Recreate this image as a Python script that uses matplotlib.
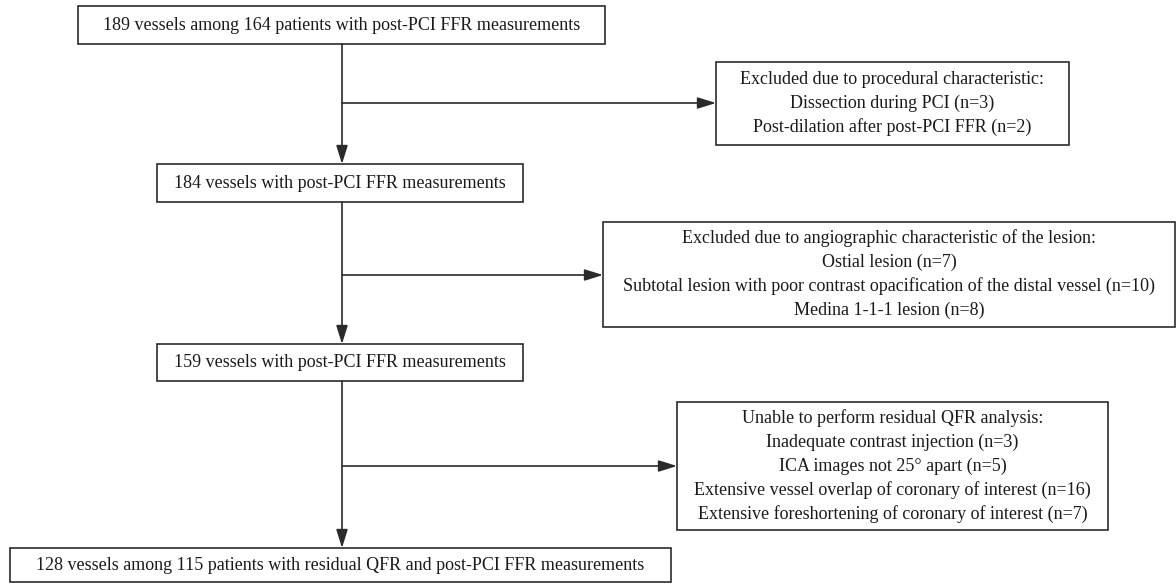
import matplotlib
matplotlib.use('Agg')
import matplotlib.pyplot as plt
from matplotlib.patches import Rectangle

plt.rcParams['font.family'] = ['Liberation Serif', 'DejaVu Serif']

# Flowchart text (data)
main_steps = [
    "189 vessels among 164 patients with post-PCI FFR measurements",
    "184 vessels with post-PCI FFR measurements",
    "159 vessels with post-PCI FFR measurements",
    "128 vessels among 115 patients with residual QFR and post-PCI FFR measurements",
]
excl_titles = [
    "Excluded due to procedural characteristic:",
    "Excluded due to angiographic characteristic of the lesion:",
    "Unable to perform residual QFR analysis:",
]
excl_reasons = [
    ["Dissection during PCI", "Post-dilation after post-PCI FFR"],
    ["Ostial lesion", "Subtotal lesion with poor contrast opacification of the distal vessel",
     "Medina 1-1-1 lesion"],
    ["Inadequate contrast injection", "ICA images not 25\u00b0 apart",
     "Extensive vessel overlap of coronary of interest",
     "Extensive foreshortening of coronary of interest"],
]
excl_counts = [[3, 2], [7, 10, 8], [3, 5, 16, 7]]

# layout in pixel coordinates (x0, y0, x1, y1), y downward
main_boxes = [(78, 6, 605, 44), (157, 164, 523, 202), (157, 344, 523, 381), (10, 548, 671, 582)]
excl_boxes = [(716, 62, 1069, 145), (603, 222, 1175, 327), (677, 402, 1108, 530)]
branch_y = [103, 275, 466]
spine_x = 342
line_gap = 24
FS = 13
COL = '#2b2b2b'

fig = plt.figure(figsize=(11.76, 5.84), dpi=100)
ax = fig.add_axes([0, 0, 1, 1])
ax.set_xlim(0, 1176)
ax.set_ylim(584, 0)
ax.axis('off')


def box(b):
    x0, y0, x1, y1 = b
    ax.add_patch(Rectangle((x0, y0), x1 - x0, y1 - y0, fill=False, ec=COL, lw=1.2))


def arrow(x0, y0, x1, y1):
    ax.annotate('', xy=(x1, y1), xytext=(x0, y0),
                arrowprops=dict(arrowstyle='-|>,head_length=0.8,head_width=0.25', color=COL,
                                lw=1.2, mutation_scale=14, shrinkA=0, shrinkB=0))


for b, t in zip(main_boxes, main_steps):
    box(b)
    ax.text((b[0] + b[2]) / 2, (b[1] + b[3]) / 2, t, ha='center', va='center',
            fontsize=FS, color='#1a1a1a')

for i in range(3):
    arrow(spine_x, main_boxes[i][3], spine_x, main_boxes[i + 1][1])
    eb = excl_boxes[i]
    arrow(spine_x, branch_y[i], eb[0], branch_y[i])
    box(eb)
    lines = [excl_titles[i]] + [f"{r} (n={n})" for r, n in zip(excl_reasons[i], excl_counts[i])]
    cy = (eb[1] + eb[3]) / 2
    start = cy - line_gap * (len(lines) - 1) / 2
    for k, s in enumerate(lines):
        ax.text((eb[0] + eb[2]) / 2, start + k * line_gap, s, ha='center', va='center',
                fontsize=FS, color='#1a1a1a')

fig.savefig('out.png', dpi=100)
